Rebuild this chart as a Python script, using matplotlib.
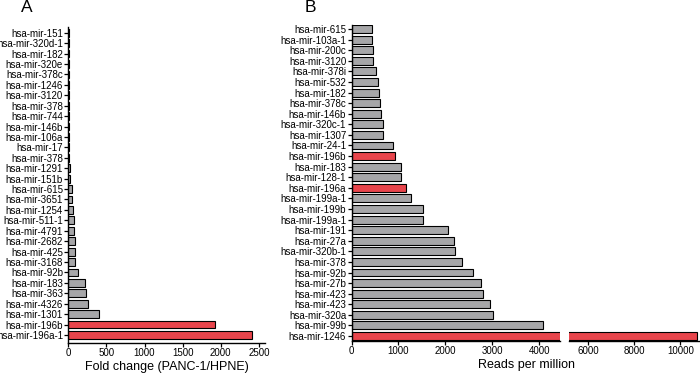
import numpy as np
import matplotlib
matplotlib.use("Agg")
import matplotlib.pyplot as plt

plt.rcParams['font.family'] = ['Liberation Sans', 'DejaVu Sans']

# panel A: fold change, listed top to bottom
mirs_a = ['hsa-mir-151', 'hsa-mir-320d-1', 'hsa-mir-182', 'hsa-mir-320e', 'hsa-mir-378c',
          'hsa-mir-1246', 'hsa-mir-3120', 'hsa-mir-378', 'hsa-mir-744', 'hsa-mir-146b',
          'hsa-mir-106a', 'hsa-mir-17', 'hsa-mir-378', 'hsa-mir-1291', 'hsa-mir-151b',
          'hsa-mir-615', 'hsa-mir-3651', 'hsa-mir-1254', 'hsa-mir-511-1', 'hsa-mir-4791',
          'hsa-mir-2682', 'hsa-mir-425', 'hsa-mir-3168', 'hsa-mir-92b', 'hsa-mir-183',
          'hsa-mir-363', 'hsa-mir-4326', 'hsa-mir-1301', 'hsa-mir-196b', 'hsa-mir-196a-1']
fold_a = [3, 4, 4, 5, 5, 6, 6, 7, 8, 9, 10, 11, 14, 18, 22,
          44, 48, 66, 74, 74, 83, 83, 83, 122, 219, 227, 254, 402, 1930, 2415]
red_a = ['hsa-mir-196b', 'hsa-mir-196a-1']

# panel B: reads per million, listed top to bottom
mirs_b = ['hsa-mir-615', 'hsa-mir-103a-1', 'hsa-mir-200c', 'hsa-mir-3120', 'hsa-mir-378i',
          'hsa-mir-532', 'hsa-mir-182', 'hsa-mir-378c', 'hsa-mir-146b', 'hsa-mir-320c-1',
          'hsa-mir-1307', 'hsa-mir-24-1', 'hsa-mir-196b', 'hsa-mir-183', 'hsa-mir-128-1',
          'hsa-mir-196a', 'hsa-mir-199a-1', 'hsa-mir-199b', 'hsa-mir-199a-1', 'hsa-mir-191',
          'hsa-mir-27a', 'hsa-mir-320b-1', 'hsa-mir-378', 'hsa-mir-92b', 'hsa-mir-27b',
          'hsa-mir-423', 'hsa-mir-423', 'hsa-mir-320a', 'hsa-mir-99b', 'hsa-mir-1246']
reads_b = [447, 447, 461, 461, 525, 560, 596, 617, 631, 674, 681, 879, 936, 1064, 1064,
           1170, 1269, 1517, 1524, 2056, 2191, 2212, 2361, 2596, 2760, 2809, 2945, 3021,
           4072, 10700]
red_b = ['hsa-mir-196b', 'hsa-mir-196a', 'hsa-mir-1246']

GRAY = '#a6a6a8'
RED = '#e8454c'
fs = 7.0

fig = plt.figure(figsize=(7, 3.75), dpi=100)


def style(ax):
    for s in ['top', 'right']:
        ax.spines[s].set_visible(False)
    for s in ['left', 'bottom']:
        ax.spines[s].set_linewidth(1.0)
    ax.tick_params(direction='out', length=3, width=0.9, labelsize=fs, pad=0.8)


def bars(ax, names, vals, reds):
    y = np.arange(len(names))
    cols = [RED if n in reds else GRAY for n in names]
    ax.barh(y, vals, height=0.75, color=cols, edgecolor='black', linewidth=0.8)
    return y


# ---- A
axa = fig.add_axes([68.3 / 700, 1 - 342.7 / 375, (265 - 68.3) / 700, (342.7 - 27.3) / 375])
y = bars(axa, mirs_a, fold_a, red_a)
axa.set_ylim(29.74, -0.52)
axa.set_xlim(0, 2580)
axa.set_yticks(y)
axa.set_yticklabels(mirs_a)
axa.set_xticks([0, 500, 1000, 1500, 2000, 2500])
axa.set_xlabel('Fold change (PANC-1/HPNE)', fontsize=9, labelpad=2)
style(axa)

# ---- B (broken x axis)
bot = 1 - 341 / 375
hb = (341 - 25) / 375
axb1 = fig.add_axes([351.5 / 700, bot, (560 - 351.5) / 700, hb])
axb2 = fig.add_axes([569.3 / 700, bot, (699 - 569.3) / 700, hb])
for ax in [axb1, axb2]:
    y = bars(ax, mirs_b, reads_b, red_b)
    ax.set_ylim(29.47, -0.38)
    style(ax)
axb1.set_xlim(0, 4440)
axb1.set_xticks([0, 1000, 2000, 3000, 4000])
axb1.set_yticks(y)
axb1.set_yticklabels(mirs_b)
axb2.set_xlim(5200, 10800)
axb2.set_xticks([6000, 8000, 10000])
axb2.spines['left'].set_visible(False)
axb2.set_yticks([])
fig.text(0.752, 0.027, 'Reads per million', fontsize=9, ha='center', va='center')

fig.text(27 / 700, 1 - 8 / 375, 'A', fontsize=12.5, ha='center', va='center')
fig.text(310 / 700, 1 - 8 / 375, 'B', fontsize=12.5, ha='center', va='center')

fig.savefig('out.png', dpi=100)
